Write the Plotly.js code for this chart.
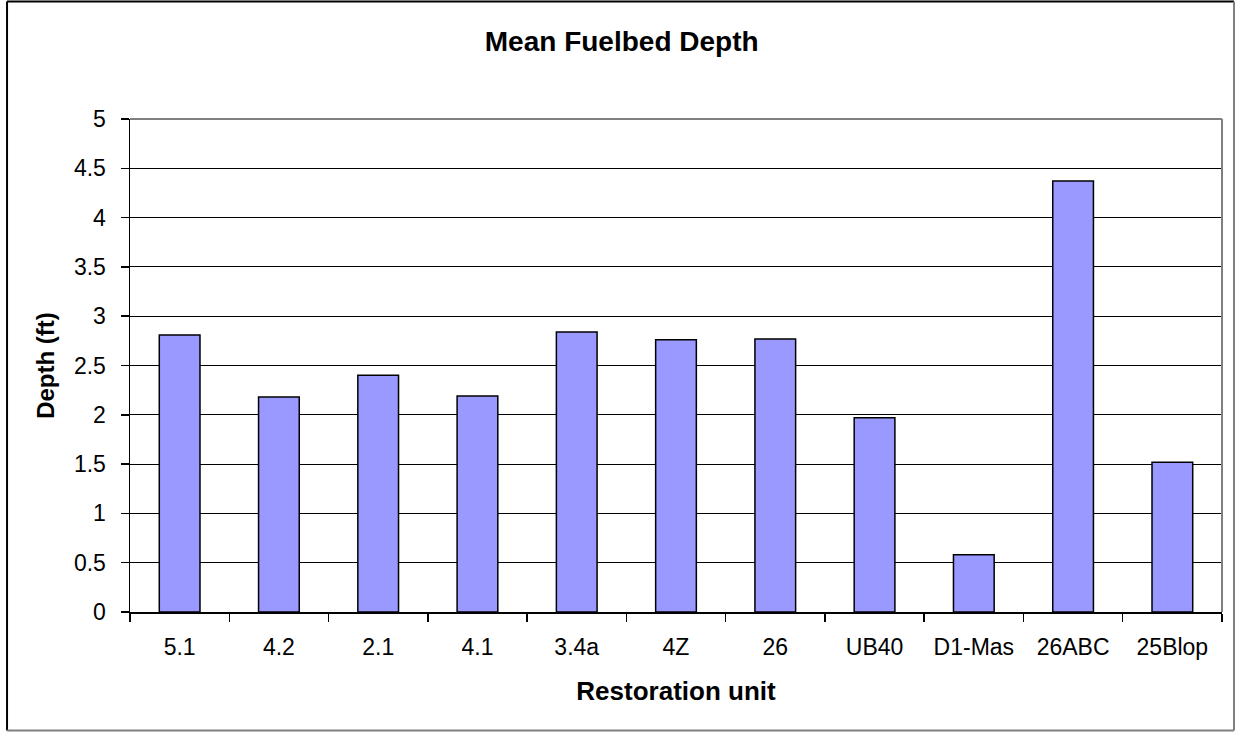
<!DOCTYPE html>
<html>
<head>
<meta charset="utf-8">
<script src="https://cdn.plot.ly/plotly-3.0.1.min.js"></script>
<style>
  html, body { margin: 0; padding: 0; background: #fff; }
  #chart { width: 1236px; height: 732px; }
</style>
</head>
<body>
<div id="chart"></div>
<script>
// Data
const units = ["5.1", "4.2", "2.1", "4.1", "3.4a", "4Z", "26", "UB40", "D1-Mas", "26ABC", "25Blop"];
const depths = [2.81, 2.18, 2.40, 2.19, 2.84, 2.76, 2.77, 1.97, 0.58, 4.37, 1.52];
const yTicks = [0, 0.5, 1, 1.5, 2, 2.5, 3, 3.5, 4, 4.5, 5];
const yTickText = ["0", "0.5", "1", "1.5", "2", "2.5", "3", "3.5", "4", "4.5", "5"];

const FONT = "Liberation Sans, Arial, sans-serif";

const trace = {
  type: "bar",
  x: units,
  y: depths,
  marker: { color: "#9999FF", line: { color: "#000000", width: 1.5 } },
  hoverinfo: "x+y"
};

const layout = {
  width: 1236,
  height: 732,
  margin: { l: 130, r: 14, t: 119, b: 120, pad: 0 },
  paper_bgcolor: "#ffffff",
  plot_bgcolor: "#ffffff",
  showlegend: false,
  bargap: 0.59,
  font: { family: FONT, color: "#000000", size: 23 },
  title: {
    text: "<b>Mean Fuelbed Depth</b>",
    font: { family: FONT, size: 28, color: "#000000" },
    x: 0.503, xref: "container", xanchor: "center",
    y: 1 - 41 / 732, yref: "container", yanchor: "middle"
  },
  xaxis: {
    type: "category",
    tickson: "boundaries",
    ticks: "outside",
    ticklen: 8,
    tickwidth: 1.5,
    tickcolor: "#000000",
    showline: true,
    linecolor: "#000000",
    linewidth: 1.5,
    showgrid: false,
    zeroline: false,
    tickfont: { family: FONT, size: 23, color: "#000000" },
    ticklabelstandoff: 14,
    title: {
      text: "<b>Restoration unit</b>",
      font: { family: FONT, size: 26, color: "#000000" },
      standoff: 22
    },
    automargin: false,
    fixedrange: true
  },
  yaxis: {
    range: [0, 5],
    tickvals: yTicks,
    ticktext: yTickText,
    ticks: "outside",
    ticklen: 8,
    tickwidth: 1.5,
    tickcolor: "#000000",
    showline: true,
    linecolor: "#000000",
    linewidth: 1.5,
    showgrid: true,
    gridcolor: "#000000",
    gridwidth: 1.2,
    zeroline: false,
    tickfont: { family: FONT, size: 23, color: "#000000" },
    ticklabelstandoff: 10,
    title: {
      text: "<b>Depth (ft)</b>",
      font: { family: FONT, size: 24, color: "#000000" },
      standoff: 12
    },
    automargin: false,
    fixedrange: true
  },
  shapes: [
    // plot area top and right border (gray)
    { type: "line", xref: "paper", yref: "paper", x0: 0, x1: 1, y0: 1, y1: 1,
      line: { color: "#808080", width: 2 }, layer: "above" },
    { type: "line", xref: "paper", yref: "paper", x0: 1, x1: 1, y0: 0, y1: 1,
      line: { color: "#808080", width: 2 }, layer: "above" },
    // outer chart frame
    { type: "line", xref: "paper", yref: "paper", x0: -0.1126, x1: 1.011, y0: 1.2383, y1: 1.2383,
      line: { color: "#000000", width: 2 }, layer: "above" },
    { type: "line", xref: "paper", yref: "paper", x0: -0.1126, x1: -0.1126, y0: -0.2404, y1: 1.2383,
      line: { color: "#000000", width: 2 }, layer: "above" },
    { type: "line", xref: "paper", yref: "paper", x0: 1.011, x1: 1.011, y0: -0.2404, y1: 1.2383,
      line: { color: "#808080", width: 2 }, layer: "above" },
    { type: "line", xref: "paper", yref: "paper", x0: -0.1126, x1: 1.011, y0: -0.2404, y1: -0.2404,
      line: { color: "#808080", width: 2 }, layer: "above" }
  ]
};

Plotly.newPlot("chart", [trace], layout, { displayModeBar: false, staticPlot: true });
</script>
</body>
</html>
